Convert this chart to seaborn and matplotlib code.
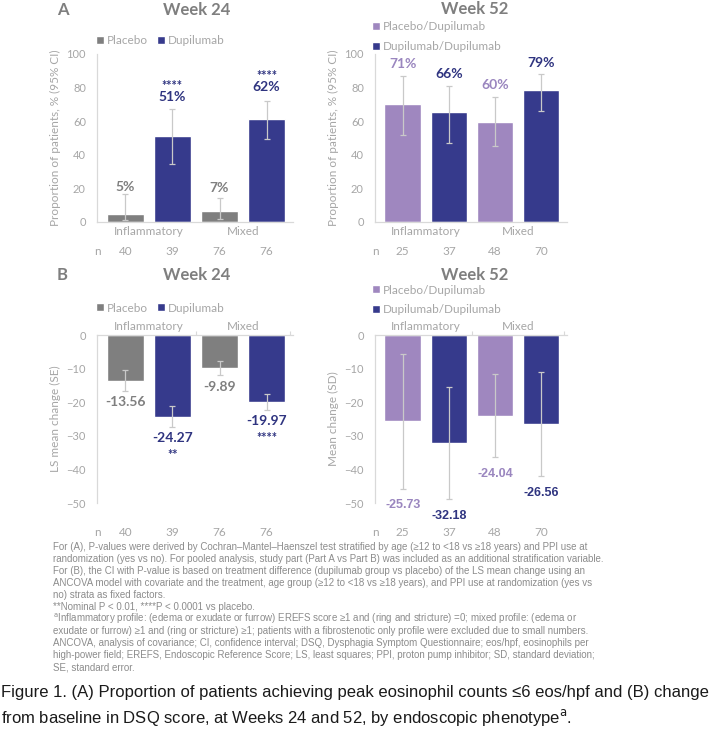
import numpy as np
import pandas as pd
import matplotlib
matplotlib.use('Agg')
import matplotlib.pyplot as plt
import seaborn as sns

# ---- data ----
phenotypes = ['Inflammatory', 'Mixed']
bars = ['inf_a', 'inf_b', 'mix_a', 'mix_b']
groups24 = ['Placebo', 'Dupilumab', 'Placebo', 'Dupilumab']
groups52 = ['Placebo/Dupilumab', 'Dupilumab/Dupilumab', 'Placebo/Dupilumab', 'Dupilumab/Dupilumab']
n24 = [40, 39, 76, 76]
n52 = [25, 37, 48, 70]

# (A) proportion with peak eos <= 6, % (95% CI)
a24_val = [4.5, 51.0, 6.5, 61.5]
a24_lo = [1.0, 34.5, 2.0, 49.6]
a24_hi = [16.5, 67.3, 14.5, 72.2]
a24_lab = ['5%', '51%', '7%', '62%']
a24_stars = ['', '****', '', '****']

a52_val = [70.5, 65.2, 59.3, 78.5]
a52_lo = [52.0, 47.0, 45.0, 66.0]
a52_hi = [87.0, 81.0, 74.5, 88.0]
a52_lab = ['71%', '66%', '60%', '79%']

# (B) change in DSQ score
b24_val = [-13.56, -24.27, -9.89, -19.97]
b24_se = [3.1, 3.0, 2.1, 2.3]
b24_stars = ['', '**', '', '****']
b52_val = [-25.73, -32.18, -24.04, -26.56]
b52_sd = [20.0, 16.6, 12.4, 15.5]

GRAY = '#7f7f7f'
NAVY = '#363a8c'
LAV = '#9f87bf'
NAVY_TXT = '#2f3480'
LAV_TXT = '#9a86bf'
LIGHT = '#a6a6a6'
SPINE = '#d9d9d9'
ERR = '#c9c9c9'

sns.set_theme(style='white')
plt.rcParams['font.family'] = ['Lato', 'DejaVu Sans']
NARROW = ['Liberation Sans', 'DejaVu Sans']

fig = plt.figure(figsize=(7.2, 7.32), dpi=100)
W, H = 720, 732


def add_ax(x0, x1, ytop, ybot):
    return fig.add_axes([x0 / W, 1 - ybot / H, (x1 - x0) / W, (ybot - ytop) / H])


ax_a24 = add_ax(97, 293, 54, 222)
ax_a52 = add_ax(375, 567, 54, 222)
ax_b24 = add_ax(97, 293, 335, 503)
ax_b52 = add_ax(375, 567, 335, 503)


def draw(ax, vals, grp, palette, lo, hi, top):
    df = pd.DataFrame({'bar': bars, 'value': vals, 'group': grp})
    sns.barplot(data=df, x='bar', y='value', hue='group', order=bars,
                hue_order=list(dict.fromkeys(grp)), palette=palette,
                dodge=False, width=0.79, saturation=1, errorbar=None, ax=ax)
    x = np.arange(len(bars))
    v = np.array(vals)
    ax.errorbar(x, v, yerr=[v - np.array(lo), np.array(hi) - v], fmt='none',
                ecolor=ERR, elinewidth=0.9, capsize=2, capthick=0.9, zorder=5)
    ax.set_xlim(-0.6, 3.56)
    ax.set_xticks([1.5, 3.5])
    ax.set_xticklabels([])
    ax.set_xlabel('')
    for s in ['left', 'right', 'top', 'bottom']:
        ax.spines[s].set_visible(False)
    ax.spines['left'].set_visible(True)
    ax.spines['left'].set_color(SPINE)
    ax.spines['left'].set_linewidth(0.9)
    edge = 'bottom' if top else 'top'
    ax.spines[edge].set_visible(True)
    ax.spines[edge].set_color(SPINE)
    ax.spines[edge].set_linewidth(0.9)
    if not top:
        ax.xaxis.set_ticks_position('top')
    ax.tick_params(axis='both', length=3, width=0.8, color=SPINE,
                   labelcolor=LIGHT, labelsize=8, pad=5, direction='out')
    ax.tick_params(axis='x', pad=0)
    # category labels
    trans = ax.get_xaxis_transform()
    cat_y = -0.054 if top else 1.048
    for i, p in enumerate(phenotypes):
        ax.text(2 * i + 0.5, cat_y, p, transform=trans, ha='center', va='center',
                fontsize=8.5, color=LIGHT)


def legend(ax, ncol, anchor, spacing):
    h, l = ax.get_legend_handles_labels()
    ax.legend(h, l, ncol=ncol, frameon=False, loc='center left',
              bbox_to_anchor=anchor, bbox_transform=fig.transFigure,
              handlelength=0.65, handleheight=0.65, handletextpad=0.25,
              columnspacing=0.8, labelspacing=spacing, borderaxespad=0,
              borderpad=0, prop={'size': 8.5}, labelcolor=LIGHT)


def nrow(ax, ns):
    trans = ax.get_xaxis_transform()
    ax.text(-0.6, -0.173, 'n', transform=trans, ha='center', va='center',
            fontsize=8.5, color=LIGHT)
    for i, n in enumerate(ns):
        ax.text(i, -0.173, str(n), transform=trans, ha='center', va='center',
                fontsize=8.5, color=LIGHT)


pal24 = {'Placebo': GRAY, 'Dupilumab': NAVY}
pal52 = {'Placebo/Dupilumab': LAV, 'Dupilumab/Dupilumab': NAVY}

# ---- (A) Week 24 ----
draw(ax_a24, a24_val, groups24, pal24, a24_lo, a24_hi, True)
ax_a24.set_ylim(0, 100)
ax_a24.set_yticks(range(0, 101, 20))
ax_a24.set_ylabel('Proportion of patients, % (95% CI)', fontsize=8.5, color=LIGHT, labelpad=4)
legend(ax_a24, 2, (96 / W, 1 - 41 / H), 0.5)
nrow(ax_a24, n24)
lab_off24 = [4.3, 7.1, 6.0, 8.2]
for i in range(4):
    c = GRAY if groups24[i] == 'Placebo' else NAVY_TXT
    y = a24_hi[i] + lab_off24[i]
    ax_a24.text(i, y, a24_lab[i], ha='center', va='center', fontsize=10,
                fontweight='bold', color=c)
    if a24_stars[i]:
        ax_a24.text(i, y + 6.5, a24_stars[i], ha='center', va='center',
                    fontsize=9, fontweight='bold', color=NAVY_TXT)

# ---- (A) Week 52 ----
draw(ax_a52, a52_val, groups52, pal52, a52_lo, a52_hi, True)
ax_a52.set_ylim(0, 100)
ax_a52.set_yticks(range(0, 101, 20))
ax_a52.set_ylabel('Proportion of patients, % (95% CI)', fontsize=8.5, color=LIGHT, labelpad=4)
legend(ax_a52, 1, (372 / W, 1 - 36.5 / H), 0.75)
nrow(ax_a52, n52)
for i in range(4):
    c = LAV_TXT if groups52[i].startswith('Placebo') else NAVY_TXT
    ax_a52.text(i, a52_hi[i] + 6.8, a52_lab[i], ha='center', va='center',
                fontsize=10, fontweight='bold', color=c)

# ---- (B) Week 24 ----
draw(ax_b24, b24_val, groups24, pal24,
     np.array(b24_val) - np.array(b24_se), np.array(b24_val) + np.array(b24_se), False)
ax_b24.set_ylim(-50, 0)
ax_b24.set_yticks(range(-50, 1, 10))
ax_b24.set_ylabel('LS mean change (SE)', fontsize=8.5, color=LIGHT, labelpad=4)
legend(ax_b24, 2, (96 / W, 1 - 308 / H), 0.5)
nrow(ax_b24, n24)
for i in range(4):
    c = GRAY if groups24[i] == 'Placebo' else NAVY_TXT
    y = b24_val[i] - b24_se[i] - 3.4
    ax_b24.text(i, y, f'{b24_val[i]:.2f}', ha='center', va='center', fontsize=10,
                fontweight='bold', color=c)
    if b24_stars[i]:
        ax_b24.text(i, y - 5.0, b24_stars[i], ha='center', va='center',
                    fontsize=9, fontweight='bold', color=NAVY_TXT)

# ---- (B) Week 52 ----
draw(ax_b52, b52_val, groups52, pal52,
     np.array(b52_val) - np.array(b52_sd), np.array(b52_val) + np.array(b52_sd), False)
ax_b52.set_ylim(-50, 0)
ax_b52.set_yticks(range(-50, 1, 10))
ax_b52.set_ylabel('Mean change (SD)', fontsize=8.5, color=LIGHT, labelpad=4)
legend(ax_b52, 1, (372 / W, 1 - 300 / H), 0.75)
nrow(ax_b52, n52)
for i in range(4):
    c = LAV_TXT if groups52[i].startswith('Placebo') else NAVY_TXT
    ax_b52.text(i, b52_val[i] - b52_sd[i] - 5.0, f'{b52_val[i]:.2f}', ha='center',
                va='center', fontsize=9, fontweight='bold', color=c, clip_on=False,
                family=NARROW)

# ---- panel titles ----
for txt, x, y in [('A', 57, 10), ('Week 24', 197, 10), ('Week 52', 475, 9),
                  ('B', 57, 275), ('Week 24', 197, 275), ('Week 52', 475, 275)]:
    fig.text(x / W, 1 - y / H, txt, ha='center' if txt.startswith('Week') else 'left',
             va='center', fontsize=12, fontweight='bold', color=GRAY)

# ---- footnotes ----
notes = [
    'For (A), P-values were derived by Cochran\u2013Mantel\u2013Haenszel test stratified by age (\u226512 to <18 vs \u226518 years) and PPI use at',
    'randomization (yes vs no). For pooled analysis, study part (Part A vs Part B) was included as an additional stratification variable.',
    'For (B), the CI with P-value is based on treatment difference (dupilumab group vs placebo) of the LS mean change using an',
    'ANCOVA model with covariate and the treatment, age group (\u226512 to <18 vs \u226518 years), and PPI use at randomization (yes vs',
    'no) strata as fixed factors.',
    '**Nominal P < 0.01, ****P < 0.0001 vs placebo.',
    '$^{\\mathrm{a}}$Inflammatory profile: (edema or exudate or furrow) EREFS score \u22651 and (ring and stricture) =0; mixed profile: (edema or',
    'exudate or furrow) \u22651 and (ring or stricture) \u22651; patients with a fibrostenotic only profile were excluded due to small numbers.',
    'ANCOVA, analysis of covariance; CI, confidence interval; DSQ, Dysphagia Symptom Questionnaire; eos/hpf, eosinophils per',
    'high-power field; EREFS, Endoscopic Reference Score; LS, least squares; PPI, proton pump inhibitor; SD, standard deviation;',
    'SE, standard error.',
]
for k, line in enumerate(notes):
    fig.text(53 / W, 1 - (547 + 12 * k) / H, line, ha='left', va='center',
             fontsize=7.0, color='#8c8c8c', family=NARROW)

caption = ['Figure 1. (A) Proportion of patients achieving peak eosinophil counts \u22646 eos/hpf and (B) change',
           'from baseline in DSQ score, at Weeks 24 and 52, by endoscopic phenotype$^{\\mathrm{a}}$.']
for k, line in enumerate(caption):
    fig.text(1 / W, 1 - (693 + 24 * k) / H, line, ha='left', va='center',
             fontsize=12.0, color='#1a1a1a', family=NARROW)

fig.savefig('out.png', dpi=100, facecolor='white')
